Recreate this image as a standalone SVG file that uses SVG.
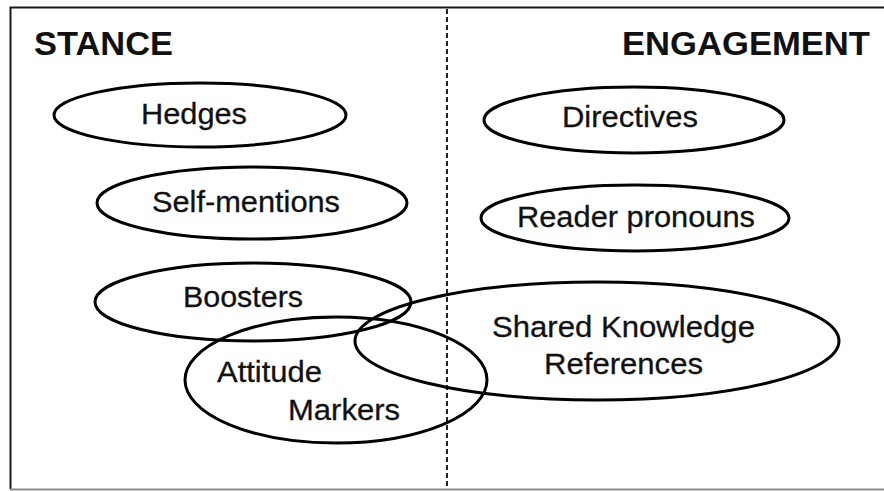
<svg xmlns="http://www.w3.org/2000/svg" width="884" height="491" viewBox="0 0 884 491">
<style>
.frame{stroke:#1a1a1a;stroke-width:2;fill:none}
.bottom{stroke:#8a8a8a;stroke-width:2;fill:none}
.divider{stroke:#222;stroke-width:2;stroke-dasharray:5,3;fill:none}
.oval{fill:none;stroke:#000;stroke-width:3}
.lbl{font-family:"Liberation Sans",Arial,sans-serif;font-size:30px;fill:#111;stroke:#111;stroke-width:0.3}
.head{font-family:"Liberation Sans",Arial,sans-serif;font-size:33px;font-weight:bold;fill:#111}
</style>
<rect x="0" y="0" width="884" height="491" fill="#fff"/>
<g id="frame">
<path class="frame" d="M884,7.5 H10.5 V489"/>
<path class="bottom" d="M10,489.5 H884"/>
</g>
<g id="connectors">
<line class="divider" x1="447" y1="9" x2="447" y2="489"/>
</g>
<g id="stance-title"><text class="head" x="34" y="55" textLength="139" lengthAdjust="spacingAndGlyphs">STANCE</text></g>
<g id="engagement-title"><text class="head" x="622" y="55" textLength="248" lengthAdjust="spacingAndGlyphs">ENGAGEMENT</text></g>
<g id="hedges">
<ellipse class="oval" cx="200" cy="115" rx="146" ry="32"/>
<text class="lbl" x="141" y="124" textLength="106" lengthAdjust="spacingAndGlyphs">Hedges</text>
</g>
<g id="self-mentions">
<ellipse class="oval" cx="252" cy="203" rx="155" ry="36"/>
<text class="lbl" x="152" y="212" textLength="188" lengthAdjust="spacingAndGlyphs">Self-mentions</text>
</g>
<g id="boosters">
<ellipse class="oval" cx="253" cy="302" rx="158" ry="39"/>
<text class="lbl" x="183" y="307" textLength="120" lengthAdjust="spacingAndGlyphs">Boosters</text>
</g>
<g id="attitude-markers">
<ellipse class="oval" cx="336" cy="380" rx="151" ry="63"/>
<text class="lbl" x="217" y="382" textLength="105" lengthAdjust="spacingAndGlyphs">Attitude</text>
<text class="lbl" x="288" y="420" textLength="112" lengthAdjust="spacingAndGlyphs">Markers</text>
</g>
<g id="directives">
<ellipse class="oval" cx="634" cy="120" rx="150" ry="33"/>
<text class="lbl" x="562" y="127" textLength="136" lengthAdjust="spacingAndGlyphs">Directives</text>
</g>
<g id="reader-pronouns">
<ellipse class="oval" cx="635" cy="218" rx="154" ry="33"/>
<text class="lbl" x="517" y="227" textLength="238" lengthAdjust="spacingAndGlyphs">Reader pronouns</text>
</g>
<g id="shared-knowledge">
<ellipse class="oval" cx="597" cy="341" rx="242" ry="59"/>
<text class="lbl" x="492" y="337" textLength="263" lengthAdjust="spacingAndGlyphs">Shared Knowledge</text>
<text class="lbl" x="544" y="374" textLength="159" lengthAdjust="spacingAndGlyphs">References</text>
</g>
</svg>
